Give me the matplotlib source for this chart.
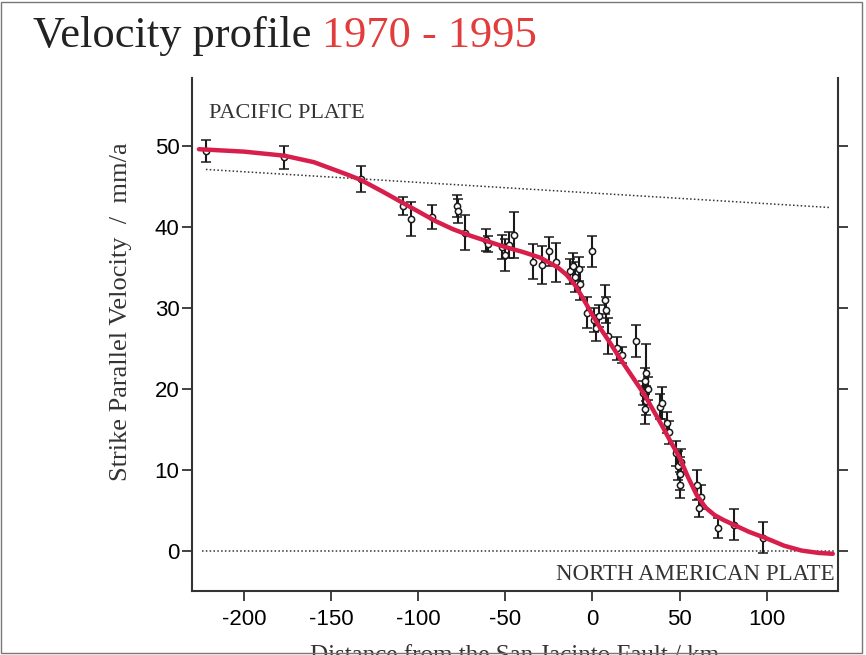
import numpy as np
import matplotlib
matplotlib.use('Agg')
import matplotlib.pyplot as plt
from matplotlib.patches import Rectangle

# GPS stations: distance from fault (km), velocity (mm/a), 1-sigma error
dist = [-222, -177, -133, -109, -104, -92, -78, -77, -73, -61, -60, -52, -50, -48,
        -45, -34, -29, -25, -21, -13, -11, -10, -8, -7, 0, -3, 1, 2, 4, 7, 7.5, 9,
        14, 17, 25, 29, 30, 31, 32, 30, 31, 38.5, 40, 43, 44, 48, 49, 50, 51, 50.5,
        60, 62.5, 61, 72, 81.5, 98]
vel = [49.4, 48.6, 45.9, 42.6, 41.0, 41.2, 42.6, 42.0, 39.3, 38.4, 37.9, 37.5, 36.5, 37.8,
       39.0, 35.7, 35.3, 37.0, 35.6, 34.5, 35.2, 33.8, 34.8, 33.0, 37.0, 29.4, 28.5, 27.5,
       29.0, 31.0, 29.7, 26.5, 25.0, 24.2, 25.9, 19.5, 21.0, 18.5, 20.0, 17.5, 22.0, 17.8,
       18.2, 15.8, 14.6, 12.0, 10.5, 9.5, 11.0, 8.1, 8.1, 6.6, 5.3, 2.8, 3.2, 1.6]
err = [1.4, 1.4, 1.6, 1.1, 2.1, 1.5, 1.4, 1.5, 2.2, 1.4, 1.0, 1.5, 2.0, 1.6,
       2.9, 2.2, 2.4, 1.8, 2.4, 1.5, 1.6, 1.8, 1.5, 2.0, 1.9, 1.9, 1.5, 1.6,
       1.4, 1.8, 1.6, 2.2, 1.4, 1.0, 2.0, 1.5, 1.6, 1.8, 1.4, 1.8, 3.5, 1.6,
       2.0, 1.3, 1.4, 1.6, 1.8, 2.0, 1.5, 1.6, 1.8, 1.5, 1.1, 1.2, 1.9, 1.9]

# model velocity profile (red curve)
model_x = [-226, -200, -177, -160, -150, -140, -133, -120, -110, -100, -90, -80, -70,
           -60, -50, -40, -30, -25, -20, -15, -10, -5, 0, 5, 10, 15, 20, 25, 30, 35, 40,
           45, 50, 55, 60, 65, 70, 75, 80, 90, 100, 110, 120, 130, 138]
model_v = [49.6, 49.3, 48.8, 48.0, 47.2, 46.4, 45.8, 44.3, 43.1, 41.9, 40.7, 39.7, 38.9,
           38.2, 37.5, 36.9, 36.2, 35.6, 35.0, 34.1, 32.8, 31.0, 29.1, 27.3, 25.7, 24.0,
           22.4, 20.8, 19.2, 17.3, 15.4, 13.4, 11.5, 9.0, 6.8, 5.3, 4.4, 3.8, 3.3, 2.3,
           1.5, 0.6, 0.0, -0.3, -0.4]

# reference plate velocities (dotted)
pacific_x = [-222, 136]
pacific_v = [47.1, 42.4]
north_am_x = [-224, 139]
north_am_v = [0, 0]

xticks = [-200, -150, -100, -50, 0, 50, 100]
yticks = [0, 10, 20, 30, 40, 50]

serif = 'Liberation Serif'
sans = 'Liberation Sans'

fig = plt.figure(figsize=(8.66, 6.55), dpi=100)
ax = fig.add_axes([0.2217, 0.0977, 0.746, 0.7832])

ax.plot(pacific_x, pacific_v, color='#333333', lw=1.1, ls=(0, (1, 1.5)))
ax.plot(north_am_x, north_am_v, color='#333333', lw=1.1, ls=(0, (1, 1.5)))

ax.errorbar(dist, vel, yerr=err, fmt='o', ms=4.5, mfc='white', mec='#1a1a1a', mew=1.1,
            ecolor='#1a1a1a', elinewidth=1.5, capsize=3.5, capthick=1.4, zorder=3)

ax.plot(model_x, model_v, color='#d81e4a', lw=3.2, solid_capstyle='round',
        solid_joinstyle='round', zorder=4)

ax.set_xlim(-230, 141)
ax.set_ylim(-5.0, 58.4)
ax.set_xticks(xticks)
ax.set_yticks(yticks)
ax.set_xticklabels([str(t) for t in xticks], fontfamily=sans, fontsize=16)
ax.set_yticklabels([str(t) for t in yticks], fontfamily=sans, fontsize=16)
ax.tick_params(axis='both', direction='out', length=7, width=1.3, color='#333333')
ax.tick_params(axis='x', pad=6)
ax.tick_params(axis='y', pad=2, right=True, labelright=False)

for side in ['left', 'bottom', 'right']:
    ax.spines[side].set_linewidth(1.5)
    ax.spines[side].set_color('#333333')
ax.spines['top'].set_visible(False)

ax.set_ylabel('Strike Parallel Velocity  /  mm/a', fontfamily=serif, fontsize=19,
              color='#333333')
ax.yaxis.set_label_coords(-0.093, 0.545)
ax.set_xlabel('Distance from the San Jacinto Fault / km', fontfamily=serif, fontsize=18,
              color='#333333', labelpad=11)

ax.text(-220, 53.5, 'PACIFIC PLATE', fontfamily=serif, fontsize=16, color='#333333',
        va='baseline', ha='left')
ax.text(139, -3.6, 'NORTH AMERICAN PLATE', fontfamily=serif, fontsize=16.5, color='#333333',
        va='baseline', ha='right')

# two-coloured title
t1 = fig.text(33 / 866, 1 - 47 / 655, 'Velocity profile ', fontfamily=serif, fontsize=32,
              color='#222222', va='baseline', ha='left')
fig.canvas.draw()
ax.annotate('1970 - 1995', xy=(1, 0), xycoords=t1, fontfamily=serif, fontsize=32,
            color='#e23c3c', va='bottom', ha='left', annotation_clip=False)

fig.patches.append(Rectangle((0.0015, 0.003), 0.9935, 0.994, transform=fig.transFigure,
                             fill=False, edgecolor='#777777', lw=1.0))

fig.savefig('out.png', dpi=100)
